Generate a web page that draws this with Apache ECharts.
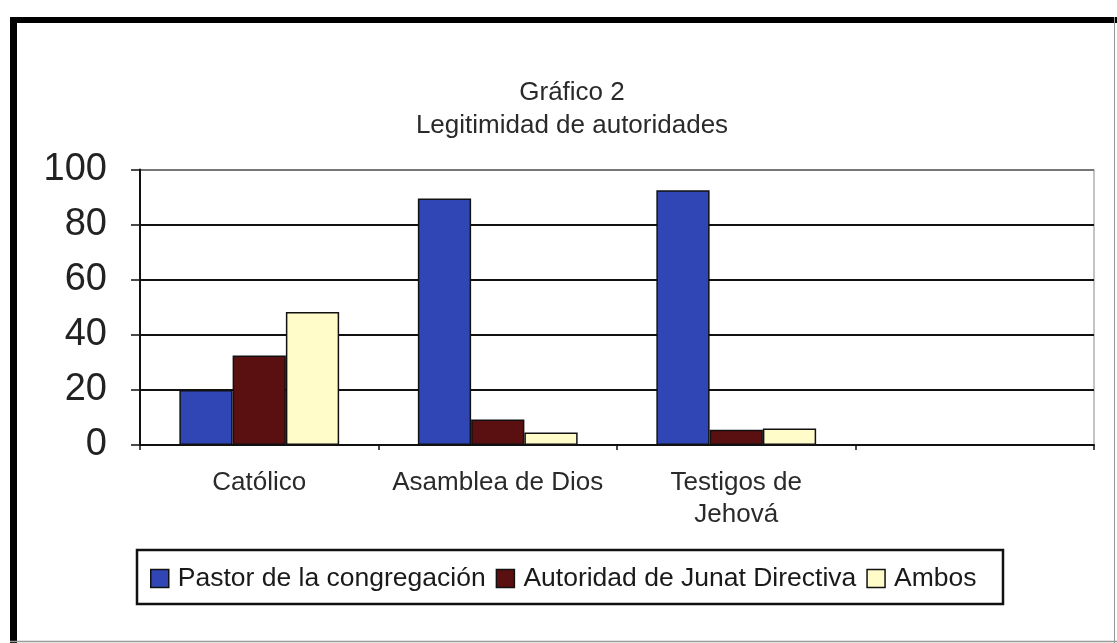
<!DOCTYPE html>
<html>
<head>
<meta charset="utf-8">
<script src="https://cdn.jsdelivr.net/npm/echarts@6/dist/echarts.min.js"></script>
<style>
html,body{margin:0;padding:0;background:#fff;}
#c{width:1117px;height:643px;}
</style>
</head>
<body>
<div id="c"></div>
<script>
const categories = ['Católico', 'Asamblea de Dios', 'Testigos de\nJehová', ''];
const seriesNames = ['Pastor de la congregación', 'Autoridad de Junat Directiva', 'Ambos'];
const pastor = [20, 89.5, 92.5, null];
const autoridad = [32.5, 9.3, 5.5, null];
const ambos = [48.3, 4.5, 6, null];
const yTicks = [0, 20, 40, 60, 80, 100];
const titleLines = ['Gráfico 2', 'Legitimidad de autoridades'];

const colors = ['#2f46b4', '#5a0f10', '#fffcc9'];
const FONT = '"Liberation Sans", Arial, sans-serif';

const chart = echarts.init(document.getElementById('c'), null, {renderer: 'canvas'});
const values = [pastor, autoridad, ambos];

chart.setOption({
  backgroundColor: '#fff',
  animation: false,
  title: {
    text: titleLines.join('\n'),
    left: 567,
    top: 71,
    textAlign: 'center',
    textStyle: {fontFamily: FONT, fontSize: 26, fontWeight: 'normal', color: '#2a2a2a', lineHeight: 33}
  },
  legend: {
    left: 145,
    top: 560,
    itemWidth: 18,
    itemHeight: 18,
    itemGap: 10,
    icon: 'rect',
    itemStyle: {borderColor: '#111', borderWidth: 1.5},
    textStyle: {fontFamily: FONT, fontSize: 26.5, color: '#1a1a1a', padding: [0, 0, 0, 4]},
    data: seriesNames
  },
  grid: {
    left: 140, right: 23, top: 169.5, bottom: 198,
    show: true, borderColor: '#888', borderWidth: 1
  },
  xAxis: {
    type: 'category',
    data: categories,
    axisLine: {show: true, lineStyle: {color: '#111', width: 2}},
    axisTick: {show: true, length: 5, interval: 0, lineStyle: {color: '#111', width: 1.5}},
    axisLabel: {interval: 0, margin: 22, fontFamily: FONT, fontSize: 26, color: '#2a2a2a', lineHeight: 32}
  },
  yAxis: {
    type: 'value',
    min: yTicks[0],
    max: yTicks[yTicks.length - 1],
    interval: yTicks[1] - yTicks[0],
    axisLine: {show: true, lineStyle: {color: '#111', width: 2}},
    axisTick: {show: true, length: 9, lineStyle: {color: '#111', width: 1.5}},
    axisLabel: {margin: 33, fontFamily: FONT, fontSize: 38, color: '#222'},
    splitLine: {show: true, lineStyle: {color: ['#111', '#111', '#111', '#111', '#111', '#777'], width: 2}}
  },
  series: seriesNames.map((n, i) => ({
    name: n,
    type: 'bar',
    data: values[i],
    barGap: '0%',
    barCategoryGap: '33%',
    itemStyle: {color: colors[i], borderColor: '#111', borderWidth: 1.5}
  })),
  graphic: [
    {type: 'rect', shape: {x: 137, y: 550, width: 866, height: 54}, style: {fill: 'none', stroke: '#111', lineWidth: 2.5}, z: 100},
    {type: 'line', shape: {x1: 10, y1: 20, x2: 1117, y2: 20}, style: {stroke: '#000', lineWidth: 6}, z: 100},
    {type: 'line', shape: {x1: 13.5, y1: 17, x2: 13.5, y2: 643}, style: {stroke: '#000', lineWidth: 7}, z: 100},
    {type: 'line', shape: {x1: 1114.5, y1: 17, x2: 1114.5, y2: 643}, style: {stroke: '#999', lineWidth: 1}, z: 100},
    {type: 'line', shape: {x1: 10, y1: 641.5, x2: 1117, y2: 641.5}, style: {stroke: '#999', lineWidth: 1.5}, z: 100}
  ]
});
</script>
</body>
</html>
